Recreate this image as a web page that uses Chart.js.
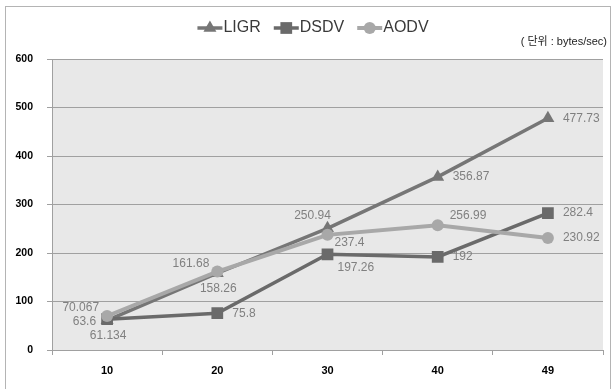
<!DOCTYPE html>
<html>
<head>
<meta charset="utf-8">
<script src="https://cdn.jsdelivr.net/npm/chart.js@4/dist/chart.umd.min.js"></script>
<style>
  html, body { margin: 0; padding: 0; background: #fff; }
  canvas { display: block; }
</style>
</head>
<body>
<canvas id="c" width="613" height="389"></canvas>
<script>
// ---- data ----
const categories = ['10', '20', '30', '40', '49'];
const ligr = [61.134, 158.26, 250.94, 356.87, 477.73];
const dsdv = [63.6, 75.8, 197.26, 192, 282.4];
const aodv = [70.067, 161.68, 237.4, 256.99, 230.92];
const yTickValues = [0, 100, 200, 300, 400, 500, 600];
const seriesNames = ['LIGR', 'DSDV', 'AODV'];
const unitText = '( 단위 : bytes/sec)';

// ---- label placement (style, not data) ----
const PLACE = {
  e:   { align: 'left',   dx: 15,  dy: 0 },
  w:   { align: 'right',  dx: -11, dy: 3 },
  nw:  { align: 'right',  dx: -8,  dy: -8 },
  ne:  { align: 'left',   dx: 12,  dy: -10 },
  se:  { align: 'left',   dx: 7,   dy: 8 },
  sse: { align: 'left',   dx: 10,  dy: 13 },
  s:   { align: 'center', dx: 1,   dy: 15 },
  nnw: { align: 'center', dx: -15, dy: -13 }
};
const ligrPlaces = ['s', 's', 'nnw', 'e', 'e'];
const dsdvPlaces = ['w', 'e', 'sse', 'e', 'e'];
const aodvPlaces = ['nw', 'nw', 'se', 'ne', 'e'];

const COLORS = { LIGR: '#767676', DSDV: '#6a6a6a', AODV: '#a8a8a8' };
const FONT = "'Liberation Sans', Arial, 'Noto Sans CJK KR', sans-serif";

const bgPlugin = {
  id: 'bg',
  beforeDraw(chart) {
    const ctx = chart.ctx, a = chart.chartArea;
    ctx.save();
    ctx.fillStyle = '#ffffff';
    ctx.fillRect(0, 0, chart.width, chart.height);
    ctx.strokeStyle = '#b4b4b4';
    ctx.lineWidth = 1;
    ctx.strokeRect(5.5, 6.5, 605, 400);
    ctx.fillStyle = '#e8e8e8';
    ctx.fillRect(a.left, a.top, a.right - a.left, a.bottom - a.top);
    ctx.restore();
  }
};

function drawMarker(ctx, style, x, y, r, color) {
  ctx.fillStyle = color;
  ctx.beginPath();
  if (style === 'triangle') {
    const w = r * Math.sqrt(3);
    ctx.moveTo(x, y - r);
    ctx.lineTo(x + w / 2, y + r / 2);
    ctx.lineTo(x - w / 2, y + r / 2);
    ctx.closePath();
  } else if (style === 'rect') {
    const s = r * Math.SQRT1_2;
    ctx.rect(x - s, y - s, 2 * s, 2 * s);
  } else {
    ctx.arc(x, y, r, 0, Math.PI * 2);
  }
  ctx.fill();
}

const legendPlugin = {
  id: 'customLegend',
  afterDraw(chart) {
    const ctx = chart.ctx;
    ctx.save();
    ctx.font = '16px ' + FONT;
    ctx.textBaseline = 'middle';
    const lineW = 25, gapText = 1, gapItem = 13;
    const ds = chart.data.datasets;
    let total = 0;
    ds.forEach((d, i) => {
      total += lineW + gapText + ctx.measureText(d.label).width + (i < ds.length - 1 ? gapItem : 0);
    });
    let x = 313 - total / 2;
    const y = 28;
    ds.forEach(d => {
      ctx.strokeStyle = d.borderColor;
      ctx.lineWidth = d.borderWidth;
      ctx.beginPath();
      ctx.moveTo(x, y);
      ctx.lineTo(x + lineW, y);
      ctx.stroke();
      drawMarker(ctx, d.pointStyle, x + lineW / 2, y, d.pointRadius, d.borderColor);
      x += lineW + gapText;
      ctx.fillStyle = '#3a3a3a';
      ctx.textAlign = 'left';
      ctx.fillText(d.label, x, y);
      x += ctx.measureText(d.label).width + gapItem;
    });
    // unit text
    ctx.font = '11px ' + FONT;
    ctx.fillStyle = '#222';
    ctx.textAlign = 'right';
    ctx.fillText(unitText, 607, 42);
    ctx.restore();
  }
};

const labelPlugin = {
  id: 'valueLabels',
  afterDatasetsDraw(chart) {
    const ctx = chart.ctx;
    ctx.save();
    ctx.font = '12px ' + FONT;
    ctx.fillStyle = '#808080';
    ctx.textBaseline = 'middle';
    chart.data.datasets.forEach((d, i) => {
      const meta = chart.getDatasetMeta(i);
      meta.data.forEach((pt, j) => {
        const p = PLACE[d.labelPlaces[j]];
        ctx.textAlign = p.align;
        ctx.fillText(String(d.data[j]), pt.x + p.dx, pt.y + p.dy);
      });
    });
    ctx.restore();
  }
};

new Chart(document.getElementById('c'), {
  type: 'line',
  data: {
    labels: categories,
    datasets: [
      { label: seriesNames[0], data: ligr, labelPlaces: ligrPlaces, borderColor: COLORS.LIGR, backgroundColor: COLORS.LIGR,
        borderWidth: 3.5, pointStyle: 'triangle', pointRadius: 7.5, pointBorderWidth: 0, order: 3 },
      { label: seriesNames[1], data: dsdv, labelPlaces: dsdvPlaces, borderColor: COLORS.DSDV, backgroundColor: COLORS.DSDV,
        borderWidth: 3.5, pointStyle: 'rect', pointRadius: 8.3, pointBorderWidth: 0, order: 2 },
      { label: seriesNames[2], data: aodv, labelPlaces: aodvPlaces, borderColor: COLORS.AODV, backgroundColor: COLORS.AODV,
        borderWidth: 4, pointStyle: 'circle', pointRadius: 6, pointBorderWidth: 0, order: 1 }
    ]
  },
  options: {
    responsive: false,
    animation: false,
    devicePixelRatio: 1,
    layout: { padding: { left: 0, top: 59, right: 10, bottom: 0 } },
    plugins: { legend: { display: false }, tooltip: { enabled: false } },
    elements: { line: { tension: 0 } },
    scales: {
      x: {
        type: 'category',
        offset: true,
        afterFit(scale) { scale.height = 39; },
        grid: { display: true, drawOnChartArea: false, drawTicks: true, tickLength: 5, offset: true, color: '#a0a0a0' },
        border: { display: true, color: '#a0a0a0' },
        ticks: { color: '#000', font: { family: FONT, size: 11, weight: 'bold' }, padding: 9, maxRotation: 0 }
      },
      y: {
        min: 0,
        max: 600,
        afterFit(scale) { scale.width = 52; },
        afterBuildTicks(scale) { scale.ticks = yTickValues.map(v => ({ value: v })); },
        grid: { color: '#a0a0a0', drawTicks: true, tickLength: 5 },
        border: { display: true, color: '#a0a0a0' },
        ticks: { color: '#000', font: { family: FONT, size: 10.5, weight: 'bold' }, padding: 14 }
      }
    }
  },
  plugins: [bgPlugin, labelPlugin, legendPlugin]
});
</script>
</body>
</html>
